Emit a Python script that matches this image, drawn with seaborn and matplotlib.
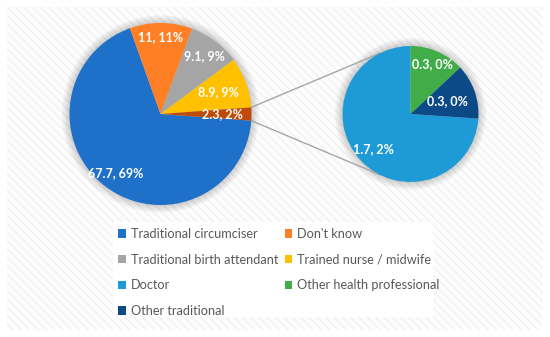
import matplotlib
matplotlib.use('Agg')
import numpy as np
import matplotlib.pyplot as plt
from matplotlib.patches import Rectangle, Circle
import seaborn as sns

# Datos del gráfico principal (el último sector se desglosa en el secundario)
main_names = ['Traditional circumciser', "Don't know", 'Traditional birth attendant',
              'Trained nurse / midwife', 'Other']
main_values = [67.7, 11, 9.1, 8.9, 2.3]
main_pcts = [69, 11, 9, 9, 2]

# Desglose de "Other"
sub_names = ['Doctor', 'Other health professional', 'Other traditional']
sub_values = [1.7, 0.3, 0.3]
sub_pcts = [2, 0, 0]

main_colors = ['#1F70C8', '#FF7F27', '#A5A5A5', '#FFC000', '#BE4B0A']
sub_colors = ['#1E9BD7', '#41AD48', '#0B4A86']

sns.set_theme(style='white')
plt.rcParams['font.family'] = ['Lato', 'DejaVu Sans']
plt.rcParams['hatch.linewidth'] = 1.0
plt.rcParams['hatch.color'] = '#f1f1f1'

W, H = 550, 337
fig = plt.figure(figsize=(W / 100, H / 100), dpi=100)
ax = fig.add_axes([0, 0, 1, 1])

# fondo rayado tipo Excel
ax.add_patch(Rectangle((7, 7), 536, 323, facecolor='#fdfdfd', edgecolor='#f1f1f1',
                       hatch='\\\\\\\\', lw=0, zorder=0))
# caja blanca de la leyenda
ax.add_patch(Rectangle((113, 20), 320, 95, facecolor='white', lw=0, zorder=1))

c1, r1 = (160.5, 223), 91
c2, r2 = (410.5, 223), 68

# sombra suave
for (c, r) in [(c1, r1), (c2, r2)]:
    for k in range(10):
        ax.add_patch(Circle(c, r + 0.9 * k, color='black', alpha=0.018, lw=0, zorder=1))

start1 = -main_values[-1] / sum(main_values) * 180
w1, _ = ax.pie(main_values, colors=main_colors, startangle=start1, counterclock=False,
               center=c1, radius=r1, wedgeprops=dict(linewidth=0, zorder=2))

start2 = sub_values[0] / sum(sub_values) * 360 - 270
w2, _ = ax.pie(sub_values, colors=sub_colors, startangle=start2, counterclock=False,
               center=c2, radius=r2, wedgeprops=dict(linewidth=0, zorder=2))

# etiquetas de datos
def put_labels(wedges, values, pcts, c, r, dists):
    for w, v, p, d in zip(wedges, values, pcts, dists):
        mid = np.deg2rad((w.theta1 + w.theta2) / 2)
        ax.text(c[0] + d * r * np.cos(mid), c[1] + d * r * np.sin(mid), f'{v:g}, {p}%',
                ha='center', va='center', color='white', fontsize=9,
                fontweight='bold', zorder=5)

put_labels(w1, main_values, main_pcts, c1, r1, [0.82, 0.85, 0.8, 0.68, 0.68])
put_labels(w2, sub_values, sub_pcts, c2, r2, [0.75, 0.8, 0.57])

# líneas de conexión
other = w1[-1]
for th1, th2 in [(other.theta2, 116.5), (other.theta1, -116.5)]:
    a, b = np.deg2rad(th1), np.deg2rad(th2)
    ax.plot([c1[0] + r1 * np.cos(a), c2[0] + r2 * np.cos(b)],
            [c1[1] + r1 * np.sin(a), c2[1] + r2 * np.sin(b)],
            color='#a6a6a6', lw=1, zorder=1.5)

# leyenda (orden por filas)
handles = list(w1[:4]) + list(w2)
labels = main_names[:4] + sub_names
order = list(range(0, 7, 2)) + list(range(1, 7, 2))
leg = ax.legend([handles[i] for i in order], [labels[i] for i in order], ncol=2,
                loc='upper left', bbox_to_anchor=(118, 109), bbox_transform=ax.transData,
                frameon=False, fontsize=9.2, labelcolor='#595959', handlelength=0.6,
                handleheight=0.6, handletextpad=0.4, labelspacing=1.07,
                columnspacing=0.5, borderpad=0, borderaxespad=0)

ax.set_xlim(0, W)
ax.set_ylim(0, H)
ax.set_aspect('equal')
ax.axis('off')

fig.savefig('out.png', dpi=100, facecolor='white')
